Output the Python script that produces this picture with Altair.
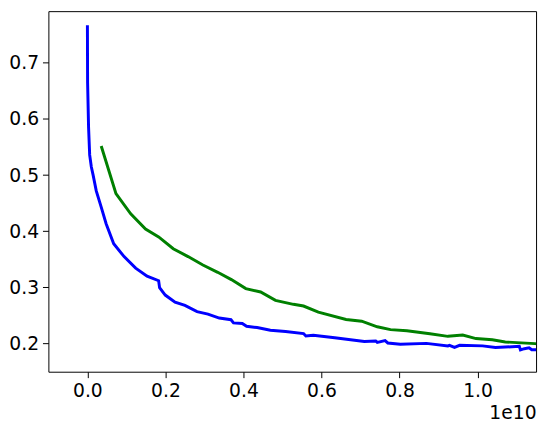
import altair as alt
import pandas as pd

blue_x = [0, 0.005, 0.03, 0.058, 0.1, 0.144, 0.227, 0.354, 0.48, 0.674, 0.94, 1.237, 1.53,
          1.826, 1.85, 1.995, 2.247, 2.5, 2.81, 3.09, 3.38, 3.68, 3.745, 3.97, 4.08, 4.35,
          4.69, 5.08, 5.54, 5.6, 5.79, 6.34, 7.1, 7.39, 7.43, 7.63, 7.70, 8.02, 8.69, 9.24,
          9.28, 9.41, 9.54, 10.13, 10.46, 11.07, 11.1, 11.2, 11.32, 11.39, 11.6]
blue_y = [0.767, 0.665, 0.585, 0.536, 0.515, 0.501, 0.472, 0.443, 0.4135, 0.378, 0.355, 0.3345,
          0.320, 0.312, 0.2995, 0.2865, 0.274, 0.268, 0.257, 0.2526, 0.2456, 0.2426, 0.237,
          0.236, 0.231, 0.2286, 0.224, 0.2216, 0.218, 0.2135, 0.215, 0.2105, 0.204, 0.2047,
          0.2023, 0.2053, 0.2012, 0.1988, 0.2005, 0.196, 0.197, 0.1935, 0.197, 0.196, 0.193,
          0.1953, 0.189, 0.191, 0.1925, 0.189, 0.189]

green_x = [0.354, 0.732, 1.11, 1.49, 1.826, 2.2, 2.58, 2.96, 3.34, 3.69, 4.06, 4.44, 4.82,
           5.28, 5.54, 5.92, 6.63, 7.03, 7.43, 7.77, 8.19, 8.78, 9.24, 9.62, 9.96, 10.38,
           10.71, 11.47, 11.6]
green_y = [0.552, 0.467, 0.431, 0.404, 0.390, 0.369, 0.355, 0.340, 0.327, 0.314, 0.298,
           0.292, 0.277, 0.270, 0.267, 0.256, 0.243, 0.240, 0.230, 0.225, 0.223, 0.2175,
           0.213, 0.2153, 0.209, 0.207, 0.203, 0.200, 0.199]

x_ticks = [0, 2e9, 4e9, 6e9, 8e9, 1e10]
y_ticks = [0.2, 0.3, 0.4, 0.5, 0.6, 0.7]

rows = []
for i, (x, y) in enumerate(zip(blue_x, blue_y)):
    rows.append({"x": x * 1e9, "y": y, "s": "blue", "i": i})
for i, (x, y) in enumerate(zip(green_x, green_y)):
    rows.append({"x": x * 1e9, "y": y, "s": "green", "i": i})
df = pd.DataFrame(rows)

font = "DejaVu Sans"

chart = alt.Chart(df).mark_line(strokeWidth=3, clip=True).encode(
    x=alt.X("x:Q", scale=alt.Scale(domain=[-1e9, 1.15e10], nice=False, zero=False),
            axis=alt.Axis(values=x_ticks, labelExpr="format(datum.value/1e10, '.1f')",
                          title="1e10", titleAnchor="end", titleAlign="right",
                          titleFontWeight="normal", titleFontSize=19, titleFont=font,
                          titlePadding=3, titleColor="black")),
    y=alt.Y("y:Q", scale=alt.Scale(domain=[0.15, 0.792], nice=False, zero=False),
            axis=alt.Axis(values=y_ticks, format=".1f", title=None)),
    color=alt.Color("s:N", scale=alt.Scale(domain=["blue", "green"],
                                           range=["#0000ff", "#008000"]), legend=None),
    detail="s:N",
    order="i:Q",
).properties(
    width=495, height=366,
    autosize=alt.AutoSizeParams(type="none"),
    padding={"left": 41, "top": 0, "right": 4, "bottom": 59},
).configure_view(
    stroke="black", strokeWidth=1
).configure_axis(
    grid=False, domain=False, tickColor="black", tickSize=6, tickWidth=1,
    labelFont=font, labelFontSize=19, labelColor="black", labelPadding=4,
)

chart.save("out.html", embed_options={"renderer": "svg", "actions": False})
